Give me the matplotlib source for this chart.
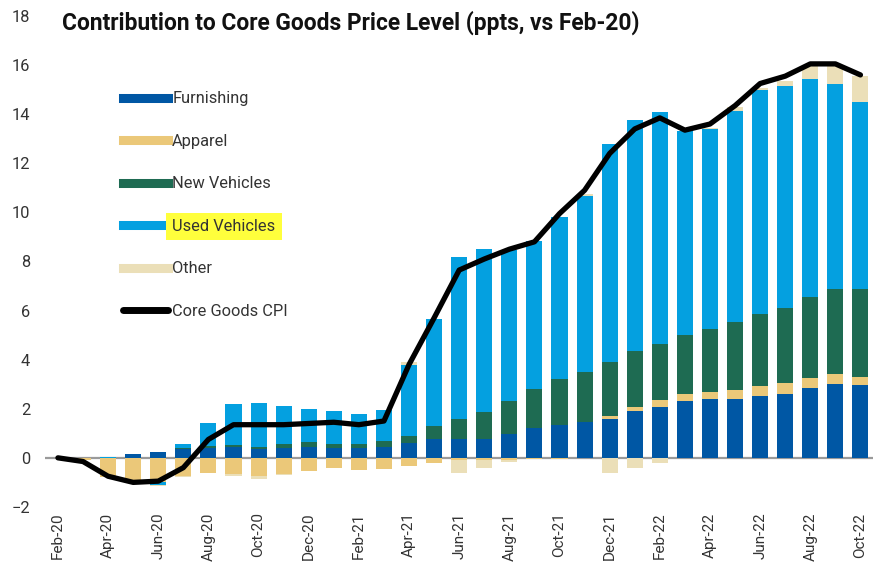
import numpy as np
import matplotlib.pyplot as plt
from matplotlib.lines import Line2D

plt.rcParams["font.family"] = ["Roboto", "DejaVu Sans"]

# Data (ppts, vs Feb-20)
months = ["Feb-20", "Mar-20", "Apr-20", "May-20", "Jun-20", "Jul-20", "Aug-20", "Sep-20",
          "Oct-20", "Nov-20", "Dec-20", "Jan-21", "Feb-21", "Mar-21", "Apr-21", "May-21",
          "Jun-21", "Jul-21", "Aug-21", "Sep-21", "Oct-21", "Nov-21", "Dec-21", "Jan-22",
          "Feb-22", "Mar-22", "Apr-22", "May-22", "Jun-22", "Jul-22", "Aug-22", "Sep-22",
          "Oct-22"]

furnishing = [0.0, 0.0, 0.0, 0.15, 0.25, 0.35, 0.4, 0.45, 0.35, 0.4, 0.45, 0.4, 0.4, 0.45,
              0.6, 0.75, 0.75, 0.75, 0.97, 1.2, 1.35, 1.48, 1.58, 1.89, 2.08, 2.3, 2.41,
              2.41, 2.5, 2.6, 2.84, 3.0, 2.97]
apparel = [0.0, -0.1, -0.8, -0.9, -1.0, -0.75, -0.6, -0.65, -0.75, -0.65, -0.55, -0.4,
           -0.5, -0.45, -0.35, -0.2, -0.1, -0.1, -0.1, -0.05, -0.05, 0.0, 0.13, 0.19, 0.27,
           0.32, 0.26, 0.35, 0.44, 0.43, 0.41, 0.4, 0.33]
new_vehicles = [0.0, 0.0, 0.0, 0.0, 0.0, 0.05, 0.08, 0.07, 0.1, 0.15, 0.2, 0.15, 0.15,
                0.25, 0.3, 0.55, 0.85, 1.1, 1.33, 1.6, 1.85, 2.02, 2.21, 2.26, 2.29, 2.38,
                2.58, 2.76, 2.9, 3.07, 3.29, 3.46, 3.56]
used_vehicles = [0.0, 0.0, 0.05, 0.0, -0.1, 0.15, 0.92, 1.68, 1.8, 1.55, 1.35, 1.35, 1.25,
                 1.25, 2.9, 4.37, 6.6, 6.65, 6.15, 6.05, 6.6, 7.15, 8.88, 9.43, 9.43, 8.32,
                 8.15, 8.62, 9.16, 9.06, 8.91, 8.39, 7.64]
other = [0.0, 0.0, 0.0, -0.05, -0.05, -0.05, 0.0, -0.1, -0.1, -0.05, 0.0, 0.0, 0.0, 0.0,
         0.1, 0.0, -0.5, -0.3, -0.05, 0.0, 0.0, 0.1, -0.6, -0.4, -0.2, 0.0, 0.05, 0.15,
         0.05, 0.2, 0.5, 0.75, 1.05]
core_goods_cpi = [0.0, -0.15, -0.75, -1.0, -0.95, -0.4, 0.75, 1.35, 1.35, 1.35, 1.4, 1.45,
                  1.35, 1.5, 3.8, 5.7, 7.65, 8.1, 8.5, 8.8, 9.95, 10.9, 12.4, 13.4, 13.85,
                  13.35, 13.6, 14.35, 15.25, 15.55, 16.05, 16.05, 15.6]

series = [
    ("Furnishing", furnishing, "#0057a4"),
    ("Apparel", apparel, "#ebc879"),
    ("New Vehicles", new_vehicles, "#1e6b52"),
    ("Used Vehicles", used_vehicles, "#04a0e0"),
    ("Other", other, "#ebdfb8"),
]

fig = plt.figure(figsize=(8.73, 5.62), dpi=100)
ax = fig.add_axes([0.052, 0.098, 0.948, 0.8735])

x = np.arange(len(months))
pos_base = np.zeros(len(months))
neg_base = np.zeros(len(months))
for name, vals, color in series:
    v = np.array(vals)
    bottom = np.where(v >= 0, pos_base, neg_base)
    ax.bar(x, v, bottom=bottom, width=0.64, color=color, zorder=2)
    pos_base += np.where(v >= 0, v, 0)
    neg_base += np.where(v < 0, v, 0)

ax.axhline(0, color="#9a9a9a", lw=1.6, zorder=1)
ax.plot(x, core_goods_cpi, color="black", lw=3.8, solid_joinstyle="round",
        solid_capstyle="round", zorder=3)

ax.set_xlim(-0.5, len(months) - 0.5)
ax.set_ylim(-2, 18)
ax.set_yticks(range(-2, 19, 2))
ax.set_xticks(x[::2])
ax.set_xticklabels(months[::2], rotation=90, fontsize=11, color="#333333")
ax.tick_params(axis="y", labelsize=11.8, labelcolor="#333333", length=0, pad=11)
ax.tick_params(axis="x", length=0, pad=4)
for s in ax.spines.values():
    s.set_visible(False)

handles = [Line2D([0], [0], color=c, lw=6.5) for _, _, c in series]
handles.append(Line2D([0], [0], color="black", lw=5, solid_capstyle="round"))
labels = [n for n, _, _ in series] + ["Core Goods CPI"]
leg = ax.legend(handles, labels, loc="upper left", bbox_to_anchor=(0.086, 0.86),
                frameon=False, fontsize=11.8, handlelength=2.75, handletextpad=0.25,
                labelspacing=1.68, borderaxespad=0)
for t in leg.get_texts():
    t.set_color("#333333")
    if t.get_text() == "Used Vehicles":
        t.set_bbox(dict(facecolor="#ffff3c", edgecolor="none", pad=4.5))

fig.text(62 / 873, 1 - 23 / 562, "Contribution to Core Goods Price Level (ppts, vs Feb-20)",
         fontsize=16.4, fontweight="bold", va="center", ha="left", color="#111111")

fig.savefig("out.png", dpi=100)
